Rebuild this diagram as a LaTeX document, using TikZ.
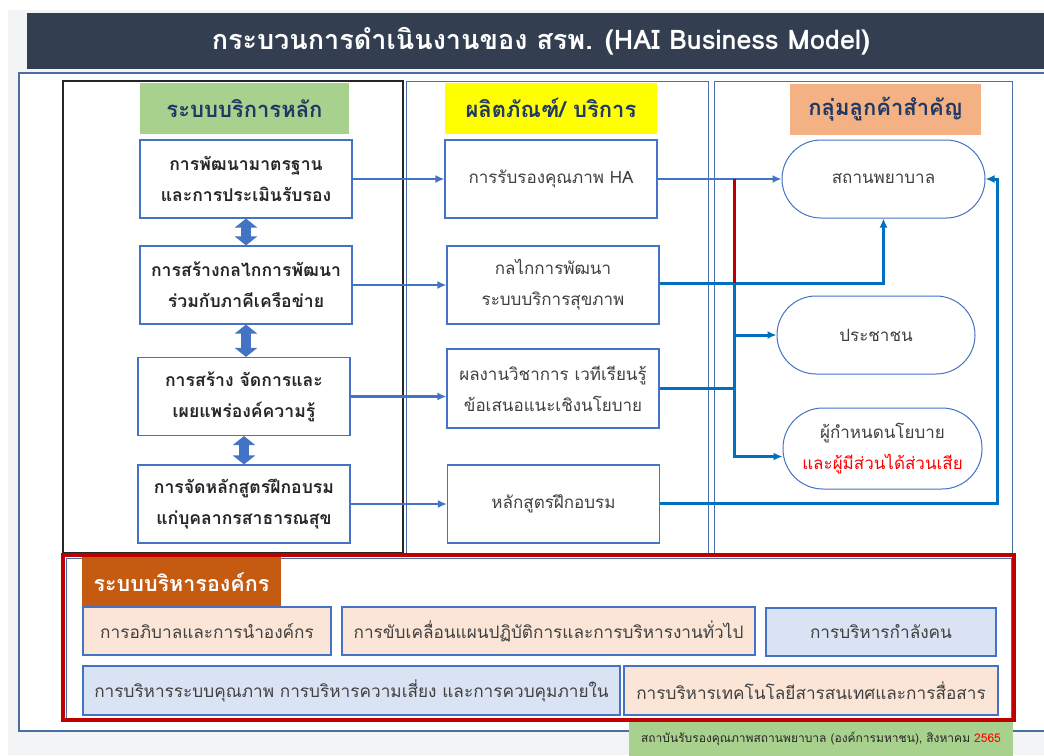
\documentclass[tikz,border=0pt]{standalone}
\usepackage{fontspec}
\usepackage{xcolor}
\usetikzlibrary{arrows.meta,positioning}
\setmainfont[Script=Thai]{Loma}
\definecolor{hatitle}{HTML}{333F50}
\definecolor{hanavy}{HTML}{1F3864}
\definecolor{haframe}{HTML}{4A6FA5}
\definecolor{haline}{HTML}{4472C4}
\definecolor{hadark}{HTML}{0070C0}
\definecolor{hared}{HTML}{C00000}
\definecolor{habright}{HTML}{FF0000}
\definecolor{hagreen}{HTML}{A9D18E}
\definecolor{hayellow}{HTML}{FFFF00}
\definecolor{hapeach}{HTML}{F4B183}
\definecolor{haorange}{HTML}{C55A11}
\definecolor{halightpeach}{HTML}{FBE5D6}
\definecolor{halightblue}{HTML}{DAE3F3}
\definecolor{hagraybg}{HTML}{F3F4F6}
\definecolor{hatext}{HTML}{262626}
\definecolor{hasoft}{HTML}{404040}

\begin{document}
\begin{tikzpicture}[x=1pt,y=-1pt,
  % column headers
  colhead/.style={inner sep=0pt, minimum height=51pt, font=\fontsize{22}{25}\selectfont\bfseries\color{hanavy}},
  % core services (left) and products (middle)
  corebox/.style={draw=haline, line width=1.1pt, fill=white, align=center, inner sep=0pt,
    minimum width=212pt, minimum height=78pt, font=\fontsize{17.6}{31}\selectfont\bfseries\color{hatext}},
  prodbox/.style={draw=haline, line width=1.1pt, fill=white, align=center, inner sep=0pt,
    minimum width=212pt, minimum height=78pt, font=\fontsize{17}{31}\selectfont\color{hasoft}},
  custbox/.style={draw=haline, line width=1pt, fill=white, align=center, inner sep=0pt,
    rounded corners=39pt, minimum height=78pt, font=\fontsize{17}{31}\selectfont\color{hasoft}},
  mgmtbox/.style={draw=haline, line width=1.1pt, inner sep=0pt, minimum height=48pt,
    font=\fontsize{17.2}{19}\selectfont\color{hasoft}},
  linkarrow/.style={draw=haline, line width=2.6pt, -{Latex[length=9pt,width=8pt]}},
  feed/.style={draw=hadark, line width=3pt},
  feedarrow/.style={feed, -{Latex[length=9pt,width=8pt]}},
  twoway/.style={draw=haline, line width=10pt,
    {Triangle[length=9pt,width=22pt]}-{Triangle[length=9pt,width=22pt]}},
]
\useasboundingbox (0,0) rectangle (1044,755);
\fill[white] (0,0) rectangle (1044,755);
\fill[hagraybg] (8,10) rectangle (1044,755);
\fill[hatitle] (27,13) rectangle (1044,69);
\node[text=white, font=\fontsize{27}{30}\selectfont\bfseries] (title) at (541,41)
  {กระบวนการดำเนินงานของ สรพ. (HAI Business Model)};

\filldraw[fill=white, draw=haframe, line width=1.4pt] (19,73) rectangle (1050,731);

% three columns
\draw[black!85, line width=1.4pt] (63,81) rectangle (403,553);
\draw[haframe, line width=1pt] (406,81) rectangle (708,553);
\draw[haframe, line width=1pt] (714,81) rectangle (1012,553);

\node[colhead, fill=hagreen, minimum width=209pt] (hdcore) at (244.5,108.5) {ระบบบริการหลัก};
\node[colhead, fill=hayellow, minimum width=212pt] (hdprod) at (551,108) {ผลิตภัณฑ์/ บริการ};
\node[colhead, fill=hapeach, minimum width=191pt] (hdcust) at (885.5,109) {กลุ่มลูกค้าสำคัญ};

\node[corebox] (core1) at (246,179) {การพัฒนามาตรฐาน\\และการประเมินรับรอง};
\node[corebox] (core2) at (246,285) {การสร้างกลไกการพัฒนา\\ร่วมกับภาคีเครือข่าย};
\node[corebox] (core3) at (244,396.5) {การสร้าง จัดการและ\\เผยแพร่องค์ความรู้};
\node[corebox] (core4) at (244,504) {การจัดหลักสูตรฝึกอบรม\\แก่บุคลากรสาธารณสุข};

\draw[twoway] (core1.south) -- (core1.south |- core2.north);
\draw[twoway] (core2.south) -- (core2.south |- core3.north);
\draw[twoway] (core3.south) -- (core3.south |- core4.north);

\node[prodbox] (prod1) at (551,179) {การรับรองคุณภาพ HA};
\node[prodbox] (prod2) at (553,285) {กลไกการพัฒนา\\ระบบบริการสุขภาพ};
\node[prodbox, minimum height=79pt] (prod3) at (553,388.5) {ผลงานวิชาการ เวทีเรียนรู้\\ข้อเสนอแนะเชิงนโยบาย};
\node[prodbox] (prod4) at (553.5,504) {หลักสูตรฝึกอบรม};

\draw[linkarrow] (core1.east) -- (core1.east -| prod1.west);
\draw[linkarrow] (core2.east) -- (core2.east -| prod2.west);
\draw[linkarrow] (core3.east) -- (core3.east -| prod3.west);
\draw[linkarrow] (core4.east) -- (core4.east -| prod4.west);

\node[custbox, minimum width=203pt] (hosp) at (883.5,179) {สถานพยาบาล};
\node[custbox, minimum width=198pt] (people) at (876,335) {ประชาชน};
\node[custbox, minimum width=199pt, minimum height=81pt, rounded corners=40pt] (policy) at (882.5,448.5)
  {ผู้กำหนดนโยบาย\\\textcolor{habright}{และผู้มีส่วนได้ส่วนเสีย}};

% routing to customers
\coordinate (split) at (734,283);
\coordinate (ret) at (997,503);
\coordinate (low) at ([yshift=-8pt]policy.west);
\draw[linkarrow] (prod1.east) -- (hosp.west);
\draw[feedarrow] (prod2.east |- split) -| (hosp.south);
\draw[feed, line width=3.6pt] (prod3.east) -- (prod3.east -| split);
\draw[feedarrow] (split) |- (low);
\draw[feedarrow] (split |- people.west) -- (people.west);
\draw[feedarrow] (prod4.east |- ret) -- (ret) |- (hosp.east);
\draw[hared, line width=3pt] (split |- hosp.west) -- (split);

% organisation management
\draw[haframe, line width=1pt] (66,558) rectangle (1011,718);
\draw[hared, line width=3.4pt] (63,555) rectangle (1014,720);
\node[fill=haorange, text=white, inner sep=0pt, minimum width=199pt, minimum height=51pt,
  font=\fontsize{21.5}{24}\selectfont\bfseries] (mgmt) at (181.5,582.5) {ระบบบริหารองค์กร};
\node[mgmtbox, fill=halightpeach, minimum width=248pt] (govern) at (207,631) {การอภิบาลและการนำองค์กร};
\node[mgmtbox, fill=halightpeach, minimum width=413pt] (plan) at (548.5,631) {การขับเคลื่อนแผนปฏิบัติการและการบริหารงานทั่วไป};
\node[mgmtbox, fill=halightblue, minimum width=230pt] (staff) at (881,632) {การบริหารกำลังคน};
\node[mgmtbox, fill=halightblue, minimum width=537pt, minimum height=49pt] (quality) at (351.5,690.5) {การบริหารระบบคุณภาพ การบริหารความเสี่ยง และการควบคุมภายใน};
\node[mgmtbox, fill=halightpeach, minimum width=374pt, minimum height=49pt] (ict) at (811,690.5) {การบริหารเทคโนโลยีสารสนเทศและการสื่อสาร};

\node[fill=hagreen, inner sep=0pt, minimum width=384pt, minimum height=34pt,
  font=\fontsize{12}{14}\selectfont\color{hatext}] (footer) at (821,739)
  {สถาบันรับรองคุณภาพสถานพยาบาล (องค์การมหาชน), สิงหาคม \textcolor{habright}{2565}};
\end{tikzpicture}
\end{document}
